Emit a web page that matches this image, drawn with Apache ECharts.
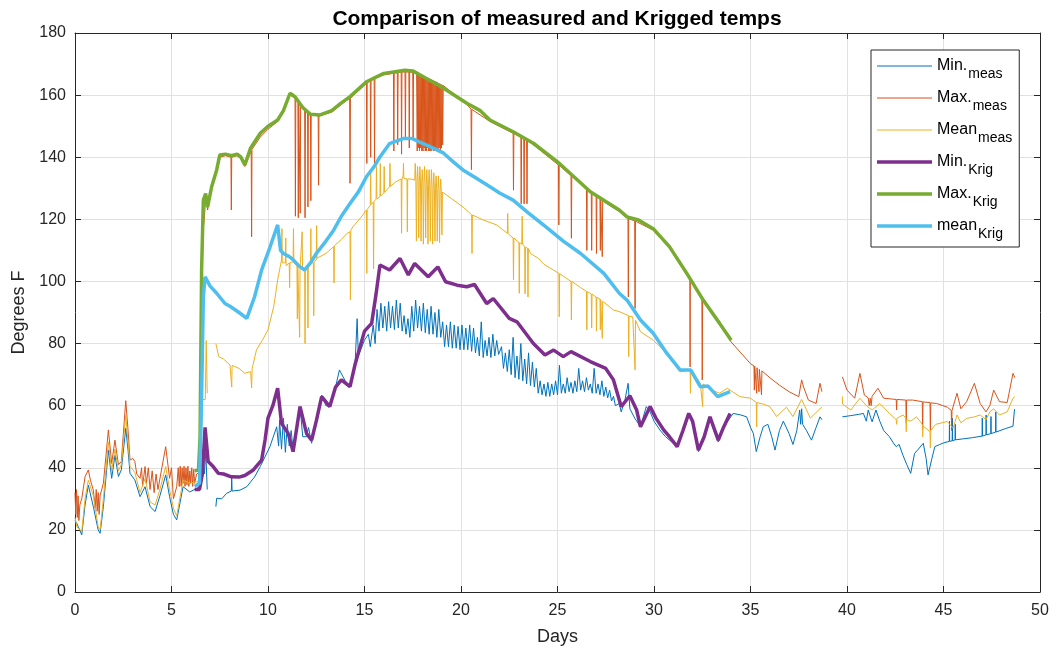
<!DOCTYPE html>
<html>
<head>
<meta charset="utf-8">
<script src="https://cdn.jsdelivr.net/npm/echarts@6/dist/echarts.min.js"></script>
<style>
html,body{margin:0;padding:0;background:#fff;}
#chart{width:1053px;height:650px;}
</style>
</head>
<body>
<div id="chart"></div>
<script>
// ---------------- DATA (day, degrees F) ----------------
const xRange = [0, 50, 5];
const yRange = [0, 180, 20];

const minMeas = [
[0,23],[0.1,22],[0.35,18.4],[0.52,28],[0.69,34.4],[0.95,27.5],[1.2,20],[1.3,18.9],[1.47,27.5],[1.73,45.7],[1.9,36.6],[2.07,44],[2.25,37.2],[2.4,39.3],[2.63,52.7],[2.75,45.6],[2.85,38.2],[3.1,36.1],[3.37,30.7],[3.63,33.9],[3.89,27.5],[4.15,25.9],[4.4,31],[4.7,37.7],[4.9,30.7],[5.1,25],[5.27,23.2],[5.6,33.9],[5.95,32.2],[6.3,33.4],[6.5,34],[6.6,43],[6.7,38],[6.78,45],[6.85,33],[6.9,null],
[7.3,27.5],[7.34,30.2],[7.6,30],[7.86,31.8],[8.1,32.5],[8.12,36.7],[8.14,32.5],[8.55,32.8],[8.9,33.9],[9.3,37],[9.6,40.4],[10.1,46.8],[10.45,53.2],[10.55,47],[10.6,55.4],[10.7,46],[10.8,56],[10.9,45],[11.0,54],[11.1,47],[11.2,52],[11.3,45.7],[11.5,52],[11.66,59.7],[11.8,50],[12.0,50],[12.1,53],[12.26,47.9],[12.5,55],[12.78,63.4],[13.0,60],[13.2,59.7],[13.5,66],[13.7,71.5],[14.0,68],[14.25,66.1],[14.5,72],[14.62,88],[14.68,76],[15.0,81.1],[15.2,83],[15.3,79],
[15.45,86],[15.55,80],[15.65,91],[15.75,84],[15.85,93],[15.95,85],[16.05,92],[16.15,84],[16.25,93.5],[16.35,85],[16.45,92],[16.55,84.5],[16.65,94],[16.75,85],[16.85,93],[16.95,84],
[17.05,89],[17.15,83],[17.25,88],[17.35,82],[17.45,92],[17.55,84],[17.65,94],[17.75,85],[17.85,92],[17.95,84],[18.05,93],[18.15,83.5],[18.25,91],[18.35,83],[18.45,92],[18.55,83],[18.65,90],[18.75,82],[18.85,91],[18.95,82],
[19.05,87],[19.15,79],[19.25,86],[19.35,79],[19.45,87],[19.55,78.5],[19.65,86],[19.75,78.5],[19.85,85.5],[19.95,78],[20.05,86],[20.15,78],[20.25,85],[20.35,78],[20.45,86],[20.55,77.5],[20.65,85],[20.75,77],
[20.85,82],[20.95,76],[21.05,87],[21.15,75.5],[21.25,81],[21.35,76],[21.45,82],[21.55,75.5],[21.65,83],[21.75,76],[21.85,81],[21.95,76.5],
[22.1,79],[22.2,72],[22.3,77],[22.4,71],[22.5,78],[22.6,70],[22.7,82],[22.8,69],[22.9,76],[23.0,68.5],[23.1,80],[23.2,68],[23.3,75],[23.4,67],[23.5,77],[23.6,66.5],[23.7,74],[23.8,66],
[23.9,72],[24.0,64],[24.1,68],[24.2,63.5],[24.3,67],[24.4,63],[24.5,67.5],[24.6,63],[24.7,67],[24.8,63.5],[24.9,68],[25.0,63.5],[25.1,73],[25.2,64],[25.3,67],[25.4,64],
[25.5,69],[25.6,64.5],[25.7,67.5],[25.8,64],[25.9,68],[26.0,64.5],[26.1,72],[26.2,65],[26.3,68],[26.4,64.5],[26.5,69],[26.6,65],[26.7,67],[26.8,64],[26.9,72],[27.0,64],[27.1,67],[27.2,63.5],[27.3,68],[27.4,63],[27.5,66],[27.6,62.5],[27.7,65],[27.8,61.5],[27.9,63],[28.0,60],[28.2,60.7],[28.3,58],[28.5,62],[28.66,67.2],[28.75,59],[29.0,56],[29.3,53.2],[29.6,59.7],[29.8,58],[30.0,55],[30.3,52.2],[30.6,50],[31.2,46.8],[31.5,52],[31.8,57],[32.0,54],[32.3,45.2],[32.6,50],[32.9,56.4],[33.1,52],[33.33,48.3],[33.6,53],[34.1,57.5],[34.5,57],[34.8,56.4],[35.0,53],[35.15,51],[35.3,45.2],[35.5,50],[35.66,53.2],[35.9,54],[36.1,50],[36.27,45.7],[36.5,52],[36.7,55],[37.0,51],[37.2,47.5],[37.4,52],[37.55,58.6],[37.6,54],[37.65,59],[37.7,54],[37.9,52],[38.16,48.9],[38.4,53],[38.6,56.4],[38.7,55.5],[38.75,null],
[39.76,56.4],[40.2,56.8],[40.6,57.2],[40.85,57.5],[41.0,55],[41.1,58.6],[41.3,54.8],[41.5,58.6],[41.7,55],[41.9,52],[42.2,50],[42.4,48],[42.55,46.8],[42.7,47.5],[42.9,44],[43.1,41],[43.3,38.2],[43.5,44.6],[43.7,46],[43.95,47.9],[44.1,43],[44.2,37.7],[44.4,43],[44.55,46.8],[44.8,47.5],[45.0,48],[45.3,48.5],[45.31,55],[45.32,48.5],[45.45,48.7],[45.46,56],[45.47,48.7],[45.6,49],[45.61,54],[45.62,49],[46.0,49.3],[46.5,49.7],[47.0,50.2],[47.01,56],[47.02,50.2],[47.2,50.6],[47.21,57],[47.22,50.6],[47.45,51],[47.46,56.5],[47.47,51],[47.7,51.5],[47.71,58],[47.72,51.5],[48.2,52.6],[48.6,53.4],[48.68,58.9]
];

const maxMeas = [
[0,32],[0.04,25],[0.08,33],[0.12,24],[0.16,31],[0.2,23],[0.25,28],[0.35,30],[0.52,37.1],[0.69,39.3],[0.8,36],[0.95,32.8],[1.05,27],[1.1,33],[1.15,26],[1.2,32],[1.25,25],[1.3,31],[1.47,35],[1.73,52.2],[1.9,41.4],[2.07,48.9],[2.25,41],[2.4,42],[2.63,61.6],[2.75,52],[2.85,42.5],[3.0,43],[3.1,42],[3.2,38],[3.37,36.6],[3.45,40],[3.5,34],[3.63,40.4],[3.7,35],[3.8,40],[3.89,33],[4.0,39],[4.1,32],[4.2,38],[4.3,33],[4.5,40],[4.7,46.8],[4.9,36.6],[5.0,40],[5.1,30],[5.27,33.9],[5.35,40],[5.4,34],[5.45,40.5],[5.5,34],[5.55,40],[5.6,35],[5.65,40.5],[5.7,34],[5.75,40],[5.8,34.5],[5.85,40.5],[5.9,34],[5.95,39],[6.0,35],[6.05,40],[6.1,34],[6.15,39.5],[6.2,35],[6.3,38],[6.45,38.5],
[6.5,40],[6.56,80],[6.62,116],[6.7,120],[6.77,127],[6.87,123],[7.08,130],[7.34,135.5],[7.5,140],[7.8,140.5],[8.08,140],[8.1,123],[8.12,140],[8.4,140.5],[8.6,139.5],[8.8,137],[9.13,142],[9.15,114.4],[9.17,142.5],[9.6,146.5],[10.0,149],[10.5,151.5],[10.8,154.5],[11.14,160],[11.4,159],[11.42,121],[11.44,159],[11.55,158],[11.57,120.5],[11.59,158],[11.65,157.5],[11.67,122],[11.69,157.3],[11.9,155.5],[11.92,120.5],[11.94,155.3],[12.05,154.7],[12.07,124],[12.09,154.6],[12.2,154],[12.22,126],[12.24,154],[12.6,153.3],[12.62,131],[12.64,153.3],[13.3,154.5],[13.8,157],[14.23,159],[14.25,131.6],[14.27,159],[15.1,163.8],[15.12,138],[15.14,164],[15.3,164.5],[15.32,140],[15.34,164.6],[15.5,165.3],[15.52,138],[15.54,165.4],[16.0,166.5],
[16.5,167],[16.52,142],[16.54,167],[16.7,167.2],[16.72,144],[16.74,167.3],[16.9,167.4],[16.92,141],[16.94,167.4],[17.1,167.5],[17.12,146],[17.14,167.5],[17.3,167.4],[17.32,143],[17.34,167.4],[17.5,167.3],[17.52,146],[17.54,167.2],
[17.7,167.0],[17.73,142],[17.76,166.9],[17.79,143],[17.82,166.8],[17.85,142],[17.88,166.7],[17.91,143],[17.94,166.5],[17.97,142],[18.0,166.3],[18.03,142],[18.06,166.1],[18.09,143],[18.12,166.0],[18.15,142],[18.18,165.8],[18.21,142],[18.24,165.6],[18.27,143],[18.3,165.5],[18.33,142],[18.36,165.3],[18.39,142],[18.42,165.2],[18.45,142],[18.48,165.0],[18.51,143],[18.54,164.8],[18.57,142],[18.6,164.6],[18.63,142],[18.66,164.4],[18.69,143],[18.72,164.3],[18.75,142],[18.78,164.1],[18.81,142],[18.84,163.9],[18.87,143],[18.9,163.7],[18.93,142],[18.96,163.5],[18.99,143],[19.02,163.3],[19.05,144],[19.08,163.1],[19.5,161],[20.3,157],
[20.52,155.5],[20.54,136],[20.56,155.4],[21.5,151.5],[22.7,147.7],[22.72,129.4],[22.74,147.6],[23.1,146.5],[23.12,125],[23.14,146.4],[23.25,146],[23.27,125],[23.29,145.9],[23.4,145.5],[23.42,125],[23.44,145.4],[23.75,144],[25.05,137.5],[25.07,118.2],[25.09,137.4],[25.7,134],[25.72,113.9],[25.74,133.9],[26.5,130],[26.52,110],[26.54,129.9],[26.75,128.8],[26.77,110],[26.79,128.7],[27.0,127.6],[27.02,109],[27.04,127.5],[27.2,126.5],[27.22,110],[27.24,126.4],[27.3,126],[27.32,108],[27.34,125.9],[28.2,122.5],[28.65,120.3],[28.67,95],[28.69,120.2],[29.0,119.5],[29.02,91.3],[29.04,119.4],[29.96,116.5],[30.8,110.7],[31.7,102],[31.86,100.5],[31.87,72.5],[31.88,100.4],[32.48,95],[32.5,68.3],[32.52,94.8],[33.4,86],[34.0,80.5],[34.5,77],[35.0,73.5],[35.18,72.8],[35.2,65],[35.22,72.7],[35.3,72.3],[35.32,64],[35.34,72.2],[35.42,71.8],[35.44,64.5],[35.46,71.7],[35.55,71.3],[35.57,63.5],[35.59,71.2],[36.0,69],[36.5,66.6],[37.0,64.5],[37.5,62.9],[37.65,68.3],[37.75,66],[38.0,61.8],[38.4,60.7],[38.6,67.2],[38.7,64.5],[38.75,null],
[39.76,69.3],[40.0,65],[40.4,62.4],[40.67,70.4],[40.9,63.4],[41.1,62.5],[41.15,60],[41.2,62.4],[41.25,60],[41.3,63],[41.6,65.6],[41.9,62.4],[42.55,62],[42.57,58.6],[42.59,62],[43.05,61.8],[43.07,54.3],[43.09,61.8],[43.4,61.8],[43.9,61.3],[43.92,52.2],[43.94,61.2],[44.3,61],[44.32,52],[44.34,60.9],[44.65,60.7],[45.2,59.5],[45.4,58.5],[45.42,52],[45.44,58.4],[45.5,58],[45.7,64],[45.9,59],[46.2,61.3],[46.6,67.2],[46.9,60.7],[47.2,58],[47.4,60],[47.6,65],[47.9,61.3],[48.3,61],[48.6,70.4],[48.7,69]
];

const meanMeas = [
[0,24],[0.1,21],[0.35,19.5],[0.52,30],[0.69,36],[0.95,31],[1.2,21],[1.3,20],[1.47,30],[1.73,48.3],[1.9,39],[2.07,46],[2.25,39],[2.4,41],[2.63,57],[2.75,48],[2.85,40.5],[3.1,38.5],[3.37,32],[3.63,36.5],[3.89,29],[4.15,28],[4.4,33],[4.7,40.4],[4.9,33],[5.1,27],[5.27,24.5],[5.6,36],[5.95,35],[6.3,35.5],[6.5,36],[6.6,62],[6.75,62],[6.8,81],[6.85,64],[6.9,null],
[7.3,80],[7.34,79.5],[7.45,75.8],[7.7,75],[8.03,73.1],[8.1,73.6],[8.12,66],[8.14,73],[8.5,72],[8.8,70.4],[9.1,71],[9.15,65.7],[9.18,72],[9.4,77.9],[9.7,81],[10.0,84.4],[10.3,92],[10.5,100.5],[10.7,106.9],[10.72,117],[10.74,106],[10.9,106],[10.92,114],[10.94,105],[11.1,106],[11.12,98],[11.14,106],[11.3,106.4],[11.32,117],[11.34,106],[11.5,105],[11.52,88],[11.54,105],[11.62,104.5],[11.64,82],[11.66,104],[11.75,104],[11.77,116],[11.79,104],[11.9,103.7],[11.92,80],[11.94,104],[12.05,104.5],[12.07,85],[12.09,105],[12.2,105.5],[12.22,117],[12.24,106],[12.35,106],[12.37,89],[12.39,106.5],[12.5,106.9],[12.52,118],[12.54,107.5],[13.0,109],[13.4,111.2],[13.42,99.5],[13.44,111.5],[13.8,113.5],[14.1,115.5],[14.25,116],[14.27,94],[14.29,116.5],[14.4,117.6],[14.8,120.5],[15.1,123],[15.12,102.6],[15.14,123.2],[15.3,124.5],[15.32,135],[15.34,124.8],[15.45,125.5],[15.47,104],[15.49,125.7],[15.6,126.5],[15.62,137],[15.64,126.6],[15.8,127.3],[15.82,138],[15.84,127.5],[16.0,128.5],[16.02,137],[16.04,128.7],[16.3,130.5],[16.32,138],[16.34,130.6],[16.6,132],[16.9,133],[16.92,115.5],[16.94,133],[17.0,134],[17.02,138],[17.04,133.2],[17.2,133],[17.22,116],[17.24,133],[17.4,133],
[17.6,132.6],[17.63,138],[17.66,132.5],[17.69,113],[17.72,132.4],[17.75,137],[17.78,132.3],[17.81,114],[17.84,132.1],[17.87,137],[17.9,132],[17.93,113],[17.96,131.8],[17.99,136],[18.02,131.7],[18.05,112],[18.08,131.5],[18.11,137],[18.14,131.4],[18.17,114],[18.2,131.2],[18.23,136],[18.26,131.1],[18.29,112],[18.32,131],[18.35,136],[18.38,130.8],[18.41,113],[18.44,130.7],[18.47,136],[18.5,130.5],[18.53,112],[18.56,130.4],[18.59,135],[18.62,130.2],[18.65,113],[18.68,130],[18.71,134],[18.74,129.8],[18.77,113],[18.8,129.6],[18.83,134],[18.86,129.4],[18.89,112.5],[18.92,129.2],[18.95,133],[18.98,129],[19.01,115],[19.04,128.8],[19.1,128.4],
[19.5,126.7],[20.1,124],[20.55,121.5],[20.57,109],[20.59,121.4],[21.15,119.8],[21.85,118.2],[22.4,115.5],[22.42,121.9],[22.44,115.4],[22.7,114],[22.72,100.5],[22.74,114],[23.0,112.5],[23.02,96.2],[23.04,112.5],[23.15,112],[23.17,121],[23.19,112],[23.3,111.2],[23.32,96],[23.34,111],[23.45,110.7],[23.47,95],[23.49,110.6],[23.6,109],[24.0,107.5],[24.02,108],[24.3,105.5],[25.07,102.6],[25.09,88.6],[25.11,102.5],[25.7,100],[25.72,87.6],[25.74,100],[26.2,98],[26.5,96.8],[26.52,84.4],[26.54,96.7],[26.75,96],[26.77,85],[26.79,95.9],[27.0,95],[27.02,84],[27.04,94.9],[27.2,94.3],[27.22,84.4],[27.24,94.2],[27.3,93.7],[27.32,81.7],[27.34,93.6],[27.9,90.8],[28.2,90.3],[28.67,89],[28.69,75.8],[28.71,88.8],[28.9,88.6],[29.0,88],[29.02,71.5],[29.04,87.5],[29.3,83.8],[29.96,81.1],[30.66,76.9],[31.35,70.9],[31.87,71.5],[31.89,64],[31.91,71.5],[32.4,67.2],[32.5,67],[32.52,59.7],[32.54,67],[33.0,65],[33.4,64],[33.8,65.6],[34.45,62.9],[35.0,62.4],[35.3,61],[35.32,53.2],[35.34,61],[35.66,60.5],[36.0,59.7],[36.35,56.5],[36.86,59.5],[37.2,56.5],[37.65,62],[38.1,56],[38.6,59],[38.7,59.5],[38.75,null],
[39.76,63],[39.77,60.5],[40.2,58.6],[40.67,62.4],[41.0,60],[41.3,58.6],[41.7,60.7],[42.2,57.5],[42.55,55.5],[42.57,54],[42.6,56],[42.9,57],[43.05,56],[43.07,51.6],[43.09,55.5],[43.3,55],[43.6,56.4],[43.9,54],[43.92,50],[43.94,53.5],[44.3,51.6],[44.32,46.4],[44.34,52],[44.6,54],[45.2,54.9],[45.5,52.7],[45.7,57],[45.9,54.5],[46.2,55.9],[46.6,56.4],[46.9,57],[47.2,55.5],[47.4,58],[47.6,59],[47.9,57],[48.3,58],[48.6,62.4],[48.7,62.9]
];

const minKrig = [
[6.2,33],[6.45,33],[6.6,38],[6.74,53],[6.9,42],[7.17,40.3],[7.43,38.2],[7.7,38],[8.1,37.1],[8.5,37],[8.8,37.5],[9.24,39.3],[9.67,42.5],[9.85,49],[10.0,56],[10.25,60],[10.5,65.6],[10.7,54.3],[11.05,51],[11.3,45.2],[11.66,59.7],[12.0,51],[12.26,48.9],[12.5,55],[12.78,62.9],[13.2,59.7],[13.5,66],[13.8,68.3],[14.25,66.1],[14.5,73],[14.77,79],[15.0,84],[15.37,86.5],[15.6,96],[15.8,105.3],[16.3,103.7],[16.84,107.4],[17.27,102.1],[17.6,105.8],[18.3,101.5],[18.8,104.7],[19.2,99.9],[19.8,98.8],[20.3,98.3],[20.7,99],[21.33,92.9],[21.67,94.5],[22.5,88.1],[22.9,87],[23.75,80],[24.35,76.3],[24.8,77.9],[25.3,75.8],[25.7,77.4],[26.7,74.2],[27.5,72],[27.9,68.3],[28.3,59.7],[28.75,63.2],[29.1,58.6],[29.3,53.2],[29.8,59.7],[30.1,56],[30.5,52.2],[30.8,50],[31.2,46.8],[31.5,52],[31.8,57.5],[32.0,55],[32.3,45.7],[32.6,50],[32.9,56.4],[33.33,48.9],[33.6,53],[33.94,57.5]
];

const maxKrig = [
[6.2,39],[6.4,39.3],[6.48,50],[6.56,103.7],[6.65,126.2],[6.77,128.3],[6.87,124],[7.08,130.5],[7.34,135.9],[7.5,140.7],[7.8,141],[8.1,140.5],[8.4,141],[8.6,140],[8.8,137.5],[9.1,143],[9.6,147.7],[10.0,150],[10.5,152],[10.8,155],[11.14,160.6],[11.4,159.5],[11.8,156],[12.2,153.8],[12.7,153.6],[13.3,155],[13.8,157.5],[14.25,159.5],[15.1,164.3],[16.0,167],[17.1,168],[17.5,167.8],[18.05,165.9],[19.1,162.2],[20.3,157.4],[21.0,155],[21.5,152],[22.7,148.2],[23.75,144.5],[25.1,138],[26.7,128.9],[28.2,123],[28.6,120.8],[29.2,119.8],[29.96,117],[30.8,111.2],[31.7,102.6],[32.55,94],[33.4,86.5],[34.0,81.1]
];

const meanKrig = [
[6.2,34],[6.45,35],[6.55,60],[6.65,95],[6.74,101.5],[7.0,98.5],[7.34,96.2],[7.77,92.9],[8.03,92],[8.5,90],[8.9,88.1],[9.3,95],[9.67,103.7],[10.1,111],[10.5,118.2],[10.65,110],[10.8,109],[11.1,108],[11.3,107],[11.6,105],[11.9,103.7],[12.2,106],[12.5,109],[13.0,113],[13.4,116.5],[13.8,121],[14.25,125.1],[14.7,129],[15.1,133.7],[15.5,137],[15.8,140.1],[16.3,144.4],[17.0,146],[17.5,146],[17.8,145],[18.4,143.4],[19.1,141.3],[19.6,138.5],[20.1,135.9],[20.8,133.2],[21.5,130.5],[22.0,128.5],[22.7,126.2],[23.5,122],[24.4,117.6],[25.3,113],[26.2,109],[27.4,102.6],[28.2,96.2],[28.6,94],[29.3,87.6],[29.96,83.3],[30.66,76.9],[31.35,71.5],[31.9,71.5],[32.4,66.1],[32.8,66.3],[33.3,62.9],[33.94,64.5]
];

const seriesNames = ['Min.|meas','Max.|meas','Mean|meas','Min.|Krig','Max.|Krig','mean|Krig'];
// ---------------- CHART ----------------
const FONT = 'Liberation Sans, Arial, Helvetica, sans-serif';
const AX = '#262626';
const THIN_ICON = 'path://M0,0H55V0.02H0ZM0,6.5H55V7.6H0ZM0,13.98H55V14H0Z';
const THICK_ICON = 'path://M0,0H55V0.02H0ZM0,5.2H55V8.8H0ZM0,13.98H55V14H0Z';
const chart = echarts.init(document.getElementById('chart'), null, {renderer:'canvas'});

function line(name, data, color, width){
  return {name, type:'line', data, xAxisIndex:0, yAxisIndex:0, symbol:'none', showSymbol:false,
    connectNulls:false, lineStyle:{color, width}, itemStyle:{color}, animation:false, silent:true};
}

const xBase = {type:'value', min:xRange[0], max:xRange[1], interval:xRange[2]};
const yBase = {type:'value', min:yRange[0], max:yRange[1], interval:yRange[2]};

chart.setOption({
  animation:false,
  backgroundColor:'#fff',
  title:{text:'Comparison of measured and Krigged temps', left:552, top:4, textAlign:'center',
    textStyle:{fontFamily:FONT, fontSize:21, fontWeight:'bold', color:'#000'}},
  grid:{left:75, right:13, top:33, bottom:58, containLabel:false, outerBoundsMode:'none'},
  legend:{orient:'vertical', left:871, top:50, padding:[8,7,6,6], itemGap:9, itemWidth:55, itemHeight:14,
    backgroundColor:'#fff', borderColor:AX, borderWidth:1, borderRadius:0,
    data:seriesNames.map((n,i)=>({name:n, icon: i<3 ? THIN_ICON : THICK_ICON})),
    formatter:function(n){const p=n.split('|'); return '{a|'+p[0]+'}{b|'+p[1]+'}';},
    textStyle:{fontFamily:FONT, color:'#000', rich:{
      a:{fontFamily:FONT, fontSize:16, lineHeight:16, verticalAlign:'top', color:'#000'},
      b:{fontFamily:FONT, fontSize:14, lineHeight:14, padding:[9,0,0,1], verticalAlign:'top', color:'#000'}
    }}},
  xAxis:[
    Object.assign({}, xBase, {position:'bottom', name:'Days', nameLocation:'middle', nameGap:36,
      nameTextStyle:{fontFamily:FONT, fontSize:18, color:AX},
      axisLine:{show:true, onZero:false, lineStyle:{color:AX, width:1}},
      axisTick:{show:true, inside:true, length:6, lineStyle:{color:AX}},
      axisLabel:{fontFamily:FONT, fontSize:16, color:AX, margin:11},
      splitLine:{show:true, lineStyle:{color:'#e1e1e1', width:1}}}),
    Object.assign({}, xBase, {position:'top',
      axisLine:{show:true, onZero:false, lineStyle:{color:AX, width:1}},
      axisTick:{show:true, inside:true, length:6, lineStyle:{color:AX}},
      axisLabel:{show:false}, splitLine:{show:false}})
  ],
  yAxis:[
    Object.assign({}, yBase, {position:'left', name:'Degrees F', nameLocation:'middle', nameGap:42,
      nameTextStyle:{fontFamily:FONT, fontSize:18, color:AX},
      axisLine:{show:true, onZero:false, lineStyle:{color:AX, width:1}},
      axisTick:{show:true, inside:true, length:6, lineStyle:{color:AX}},
      axisLabel:{fontFamily:FONT, fontSize:16, color:AX, margin:9},
      splitLine:{show:true, lineStyle:{color:'#e1e1e1', width:1}}}),
    Object.assign({}, yBase, {position:'right',
      axisLine:{show:true, onZero:false, lineStyle:{color:AX, width:1}},
      axisTick:{show:true, inside:true, length:6, lineStyle:{color:AX}},
      axisLabel:{show:false}, splitLine:{show:false}})
  ],
  series:[
    line(seriesNames[0], minMeas, '#0072BD', 1),
    line(seriesNames[1], maxMeas, '#D95319', 1),
    line(seriesNames[2], meanMeas, '#EDB120', 1),
    line(seriesNames[3], minKrig, '#7E2F8E', 3.5),
    line(seriesNames[4], maxKrig, '#77AC30', 3.5),
    line(seriesNames[5], meanKrig, '#4DBEEE', 3.5)
  ]
});
</script>
</body>
</html>
